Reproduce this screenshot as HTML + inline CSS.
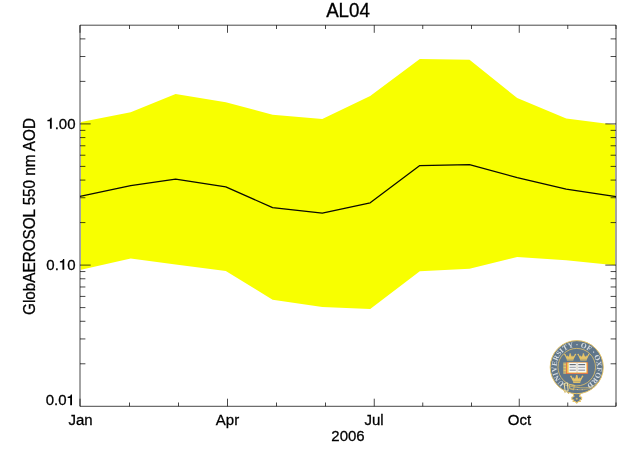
<!DOCTYPE html><html><head><meta charset="utf-8"><title>AL04</title><style>html,body{margin:0;padding:0;background:#fff;overflow:hidden}svg{display:block;will-change:transform;transform:translateZ(0)}text{font-family:"Liberation Sans",sans-serif;fill:#000;stroke:#000;stroke-width:0.28px}</style></head><body>
<svg width="640" height="457" viewBox="0 0 640 457">
<rect width="640" height="457" fill="#fff"/>
<clipPath id="pc"><rect x="81" y="26" width="534" height="380"/></clipPath>
<polygon points="80.0,122.2 130.7,112.2 175.6,94.0 225.8,102.3 272.6,114.8 322.3,119.0 370.2,95.9 419.8,59.1 469.5,59.7 517.2,98.1 566.2,118.4 616.0,125.0 616.0,265.4 566.2,260.2 517.2,257.0 469.5,268.7 419.8,271.3 370.2,309.1 322.3,306.9 272.6,299.7 225.8,271.1 175.6,264.5 130.7,258.6 80.0,270.0" fill="#f8ff00" clip-path="url(#pc)"/>
<polyline points="80.0,196.3 130.7,185.6 175.6,179.1 225.8,186.9 272.6,207.6 322.3,213.1 370.2,202.8 419.8,165.6 469.5,164.7 517.2,177.6 566.2,189.2 616.0,196.7" fill="none" stroke="#0a0a00" stroke-width="1.25" stroke-linejoin="round"/>
<g stroke="#000" stroke-width="0.72" fill="none">
<path d="M80.0,25.2H616.0V406.3H80.0Z"/>
<path d="M80,25.2v7.6M80,406.3v-7.6M129.5,25.2v3.8M129.5,406.3v-3.8M178.5,25.2v3.8M178.5,406.3v-3.8M227.5,25.2v7.6M227.5,406.3v-7.6M276.5,25.2v3.8M276.5,406.3v-3.8M325.5,25.2v3.8M325.5,406.3v-3.8M374.25,25.2v7.6M374.25,406.3v-7.6M422.75,25.2v3.8M422.75,406.3v-3.8M471.5,25.2v3.8M471.5,406.3v-3.8M519.25,25.2v7.6M519.25,406.3v-7.6M567.75,25.2v3.8M567.75,406.3v-3.8M616,25.2v3.8M616,406.3v-3.8M80.0,363.79h5.4M616.0,363.79h-5.4M80.0,338.93h5.4M616.0,338.93h-5.4M80.0,321.29h5.4M616.0,321.29h-5.4M80.0,307.60h5.4M616.0,307.60h-5.4M80.0,296.42h5.4M616.0,296.42h-5.4M80.0,286.97h5.4M616.0,286.97h-5.4M80.0,278.78h5.4M616.0,278.78h-5.4M80.0,271.56h5.4M616.0,271.56h-5.4M80.0,265.10h10.7M616.0,265.10h-10.7M80.0,222.59h5.4M616.0,222.59h-5.4M80.0,197.73h5.4M616.0,197.73h-5.4M80.0,180.09h5.4M616.0,180.09h-5.4M80.0,166.40h5.4M616.0,166.40h-5.4M80.0,155.22h5.4M616.0,155.22h-5.4M80.0,145.77h5.4M616.0,145.77h-5.4M80.0,137.58h5.4M616.0,137.58h-5.4M80.0,130.36h5.4M616.0,130.36h-5.4M80.0,123.90h10.7M616.0,123.90h-10.7M80.0,81.39h5.4M616.0,81.39h-5.4M80.0,56.53h5.4M616.0,56.53h-5.4M80.0,38.88h5.4M616.0,38.88h-5.4"/>
</g>
<text transform="translate(348,17.35) scale(1,1.03)" font-size="18.75" text-anchor="middle">AL04</text>
<text transform="translate(75.5,128.65) scale(1,1.03)" font-size="15" text-anchor="end">.00</text><path transform="translate(46.31,128.65)" d="M5.45,0 L3.62,0 L3.62,-7.45 L1.1,-7.45 L1.1,-8.55 C2.7,-8.65 3.95,-9.0 4.35,-10.8 L5.45,-10.8 Z" fill="#000"/>
<text transform="translate(75.5,269.85) scale(1,1.03)" font-size="15" text-anchor="end">0</text><path transform="translate(58.82,269.85)" d="M5.45,0 L3.62,0 L3.62,-7.45 L1.1,-7.45 L1.1,-8.55 C2.7,-8.65 3.95,-9.0 4.35,-10.8 L5.45,-10.8 Z" fill="#000"/><text transform="translate(58.82,269.85) scale(1,1.03)" font-size="15" text-anchor="end">0.</text>
<path transform="translate(66.56,405.35)" d="M5.45,0 L3.62,0 L3.62,-7.45 L1.1,-7.45 L1.1,-8.55 C2.7,-8.65 3.95,-9.0 4.35,-10.8 L5.45,-10.8 Z" fill="#000"/><text transform="translate(66.56,405.35) scale(1,1.03)" font-size="15" text-anchor="end">0.0</text>
<text transform="translate(80.5,424.6) scale(1,1.03)" font-size="15" text-anchor="middle">Jan</text>
<text transform="translate(227.5,424.6) scale(1,1.03)" font-size="15" text-anchor="middle">Apr</text>
<text transform="translate(374,424.6) scale(1,1.03)" font-size="15" text-anchor="middle">Jul</text>
<text transform="translate(519.4,424.6) scale(1,1.03)" font-size="15" text-anchor="middle">Oct</text>
<text transform="translate(348,441.4) scale(1,1.03)" font-size="15" text-anchor="middle">2006</text>
<text transform="translate(34.6,216.5) rotate(-90) scale(1,1.03)" font-size="15.25" text-anchor="middle">GlobAEROSOL 550 nm AOD</text>
<filter id="lb" x="-10%" y="-10%" width="120%" height="130%"><feGaussianBlur stdDeviation="0.3"/></filter>
<g transform="translate(576.75,367.15)" filter="url(#lb)">
<path d="M-3.9,25.5 L3.9,25.5 L2.8,29.4 L4.9,30.2 L4.8,32.4 L2.9,32.8 L3.7,34.3 L1.5,34.4 L0,36 L-1.5,34.4 L-3.7,34.3 L-2.9,32.8 L-4.8,32.4 L-4.9,30.2 L-2.8,29.4 Z" fill="#60768a" stroke="#e6c468" stroke-width="1.1" stroke-linejoin="round"/>
<circle cx="0" cy="31.6" r="1.1" fill="#e6c468" opacity="0.8"/>
<path d="M-12.8,22.6 L-11.9,25.4 L-10.4,24.2 L-8.2,26.6 L-6.6,24.6 L-5,25.8 L-4,23.5 Z" fill="#60768a" stroke="#e6c468" stroke-width="0.8" stroke-linejoin="round"/>
<circle r="26.55" fill="#60768a" stroke="#e6c468" stroke-width="1"/>
<circle r="18.75" fill="none" stroke="#e6c468" stroke-width="0.8"/>
<path d="M-13.5,17.2 C-8,19 -2,20.2 4,20.6 C10,21 16,20.4 21.5,15" fill="none" stroke="#e6c468" stroke-width="0.7"/>
<path d="M-7.5,20.5 C-2,23 8,24 18,19.5" fill="none" stroke="#e6c468" stroke-width="0.6" opacity="0.9"/>
<path d="M-12.6,16.4 L-9.4,15.6 L-8.6,23.6 L-11.6,24 Z" fill="none" stroke="#efe0a8" stroke-width="1.0" stroke-linejoin="round"/>
<path d="M-7.6,17.2 L-2.4,18 L-3.2,22.8 L-7,21.6 Z" fill="none" stroke="#e6c468" stroke-width="0.8" stroke-linejoin="round"/>
<circle cx="0.6" cy="22.3" r="0.45" fill="#e2e6e8"/><circle cx="5.4" cy="22.6" r="0.45" fill="#e2e6e8"/>
<path id="oxarc" d="M-12.16,16.13 A20.2,20.2 0 1 1 10.70,17.13" fill="none"/>
<text style="font-family:'Liberation Serif',serif;font-weight:bold;font-size:7.4px;fill:#e2e6e8;stroke:none;opacity:0.92" textLength="102.6" lengthAdjust="spacing"><textPath href="#oxarc">UNIVERSITY · OF · OXFORD</textPath></text>
<g transform="translate(-6.6,-9.8) scale(0.96)"><path d="M-3.3,3.4 L3.3,3.4 L3.6,1.9 L5.9,-2.6 L4.9,-2.9 L3.5,-0.9 L2.9,-2.3 L2.2,-0.7 L1.2,-1.4 L1.0,-2.8 L0,-3.6 L-1.0,-2.8 L-1.2,-1.4 L-2.2,-0.7 L-2.9,-2.3 L-3.5,-0.9 L-4.9,-2.9 L-5.9,-2.6 L-3.6,1.9 Z" fill="#e6c468"/><circle cx="0" cy="-3.5" r="0.85" fill="#e6c468"/><circle cx="-5.5" cy="-2.9" r="0.8" fill="#e6c468"/><circle cx="5.5" cy="-2.9" r="0.8" fill="#e6c468"/><path d="M-3.4,2.1 H3.4" stroke="#60768a" stroke-width="0.45" opacity="0.7"/></g>
<g transform="translate(6.7,-9.8) scale(0.96)"><path d="M-3.3,3.4 L3.3,3.4 L3.6,1.9 L5.9,-2.6 L4.9,-2.9 L3.5,-0.9 L2.9,-2.3 L2.2,-0.7 L1.2,-1.4 L1.0,-2.8 L0,-3.6 L-1.0,-2.8 L-1.2,-1.4 L-2.2,-0.7 L-2.9,-2.3 L-3.5,-0.9 L-4.9,-2.9 L-5.9,-2.6 L-3.6,1.9 Z" fill="#e6c468"/><circle cx="0" cy="-3.5" r="0.85" fill="#e6c468"/><circle cx="-5.5" cy="-2.9" r="0.8" fill="#e6c468"/><circle cx="5.5" cy="-2.9" r="0.8" fill="#e6c468"/><path d="M-3.4,2.1 H3.4" stroke="#60768a" stroke-width="0.45" opacity="0.7"/></g>
<g transform="translate(0,12.3) scale(1.04)"><path d="M-3.3,3.4 L3.3,3.4 L3.6,1.9 L5.9,-2.6 L4.9,-2.9 L3.5,-0.9 L2.9,-2.3 L2.2,-0.7 L1.2,-1.4 L1.0,-2.8 L0,-3.6 L-1.0,-2.8 L-1.2,-1.4 L-2.2,-0.7 L-2.9,-2.3 L-3.5,-0.9 L-4.9,-2.9 L-5.9,-2.6 L-3.6,1.9 Z" fill="#e6c468"/><circle cx="0" cy="-3.5" r="0.85" fill="#e6c468"/><circle cx="-5.5" cy="-2.9" r="0.8" fill="#e6c468"/><circle cx="5.5" cy="-2.9" r="0.8" fill="#e6c468"/><path d="M-3.4,2.1 H3.4" stroke="#60768a" stroke-width="0.45" opacity="0.7"/></g>
<rect x="-13.45" y="-4.55" width="3" height="11.10" fill="#e6c468"/>
<rect x="-13.45" y="-3.65" width="2.6" height="0.5" fill="#60768a" opacity="0.55"/>
<rect x="-13.45" y="-2.15" width="2.6" height="0.5" fill="#60768a" opacity="0.55"/>
<rect x="-13.45" y="-0.65" width="2.6" height="0.5" fill="#60768a" opacity="0.55"/>
<rect x="-13.45" y="0.85" width="2.6" height="0.5" fill="#60768a" opacity="0.55"/>
<rect x="-13.45" y="2.35" width="2.6" height="0.5" fill="#60768a" opacity="0.55"/>
<rect x="-13.45" y="3.85" width="2.6" height="0.5" fill="#60768a" opacity="0.55"/>
<rect x="-13.45" y="5.35" width="2.6" height="0.5" fill="#60768a" opacity="0.55"/>
<rect x="-10.75" y="-4.85" width="22.10" height="11.70" fill="#dc6a4e"/>
<rect x="-9.95" y="-4.65" width="20.50" height="10.70" fill="#f2c24c"/>
<rect x="-8.15" y="-4.45" width="17.70" height="9.70" fill="#f6f7f8"/>
<path d="M0.3,-4.45 V6.85" stroke="#b9a27a" stroke-width="0.5"/>
<rect x="-7.15" y="-3.15" width="6.2" height="1.2" fill="#3c4650" opacity="0.75"/>
<rect x="1.55" y="-3.15" width="6.8" height="1.2" fill="#3c4650" opacity="0.75"/>
<rect x="-7.15" y="-0.40" width="6.2" height="1.3" fill="#3c4650" opacity="0.42"/>
<rect x="1.55" y="-0.40" width="6.8" height="1.3" fill="#3c4650" opacity="0.42"/>
<rect x="-7.15" y="2.40" width="6.2" height="1.3" fill="#3c4650" opacity="0.48"/>
<rect x="1.55" y="2.40" width="6.8" height="1.3" fill="#3c4650" opacity="0.48"/>
</g>
</svg></body></html>
